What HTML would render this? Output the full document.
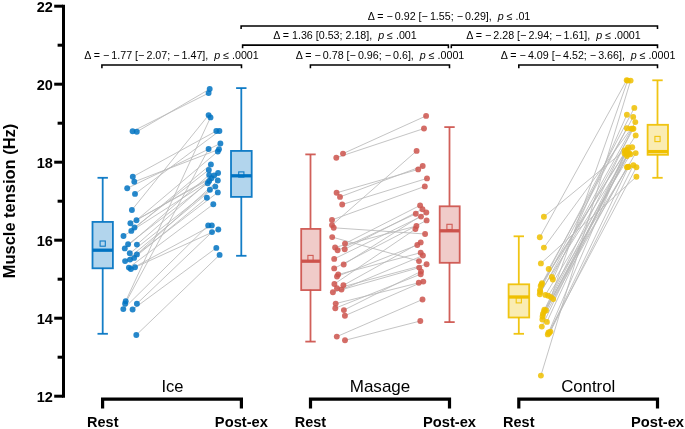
<!DOCTYPE html>
<html><head><meta charset="utf-8"><title>Muscle tension</title>
<style>html,body{margin:0;padding:0;background:#fff}svg{display:block}</style></head>
<body>
<svg width="685" height="429" viewBox="0 0 685 429" font-family="'Liberation Sans', Arial, sans-serif">
<rect width="685" height="429" fill="#fff"/>
<g stroke="#b9b9b9" stroke-width="0.85" fill="none">
<line x1="132.6" y1="131.3" x2="208.6" y2="93.1"/>
<line x1="136.8" y1="131.8" x2="209.7" y2="89"/>
<line x1="132.8" y1="176.75" x2="216.3" y2="131"/>
<line x1="134.3" y1="181.8" x2="219" y2="149.3"/>
<line x1="127.2" y1="188.3" x2="220.4" y2="143.5"/>
<line x1="135" y1="193.9" x2="219.4" y2="131"/>
<line x1="131.9" y1="210" x2="208.6" y2="115.1"/>
<line x1="125.7" y1="301.2" x2="210.5" y2="117.4"/>
<line x1="125.1" y1="303.7" x2="208.6" y2="149"/>
<line x1="123.3" y1="309.1" x2="208.2" y2="225.4"/>
<line x1="136.9" y1="303.7" x2="212" y2="232.1"/>
<line x1="132.6" y1="309.5" x2="216.3" y2="247.9"/>
<line x1="130.9" y1="269" x2="211.8" y2="225.4"/>
<line x1="136.3" y1="335" x2="219.6" y2="254.9"/>
<line x1="135" y1="267.3" x2="218.3" y2="229.5"/>
<line x1="136.5" y1="220.2" x2="217.8" y2="151.5"/>
<line x1="136.5" y1="220.2" x2="214.2" y2="175.4"/>
<line x1="130.4" y1="223.2" x2="211.4" y2="178.2"/>
<line x1="134.5" y1="227.5" x2="208.8" y2="169.9"/>
<line x1="131.3" y1="230.9" x2="210.9" y2="164.4"/>
<line x1="123.5" y1="236" x2="209.2" y2="181"/>
<line x1="128.1" y1="244.3" x2="207.7" y2="183.3"/>
<line x1="136.9" y1="244.6" x2="218.1" y2="173"/>
<line x1="124.8" y1="248.4" x2="209.2" y2="174.9"/>
<line x1="129.8" y1="253.3" x2="209.9" y2="189.8"/>
<line x1="136.9" y1="254.4" x2="217.8" y2="180.5"/>
<line x1="134.1" y1="257.9" x2="206.9" y2="197.8"/>
<line x1="130" y1="259.6" x2="217.8" y2="192.4"/>
<line x1="125.1" y1="261.1" x2="215.3" y2="186.6"/>
<line x1="128.9" y1="267.6" x2="213.3" y2="204.2"/>
</g>
<g stroke="#b9b9b9" stroke-width="0.85" fill="none">
<line x1="343" y1="153.6" x2="426.1" y2="115.9"/>
<line x1="336.3" y1="157.7" x2="424" y2="128.5"/>
<line x1="332" y1="225.1" x2="416.6" y2="150.9"/>
<line x1="336.6" y1="192.8" x2="418.2" y2="169.4"/>
<line x1="340" y1="196.9" x2="422.7" y2="166"/>
<line x1="342.2" y1="204.5" x2="427" y2="178.4"/>
<line x1="332" y1="219.9" x2="424.8" y2="186.4"/>
<line x1="333.7" y1="227.8" x2="425.1" y2="234"/>
<line x1="332.2" y1="237.1" x2="419" y2="261.1"/>
<line x1="336.8" y1="336.6" x2="422.5" y2="299.5"/>
<line x1="345" y1="340.3" x2="420.3" y2="321"/>
<line x1="345" y1="243.6" x2="420.1" y2="205.4"/>
<line x1="335.1" y1="247.4" x2="416.4" y2="226"/>
<line x1="344.7" y1="249.2" x2="422.5" y2="209.2"/>
<line x1="337.6" y1="250.3" x2="415.8" y2="213.8"/>
<line x1="334.2" y1="258.9" x2="421" y2="216.6"/>
<line x1="343.7" y1="264.5" x2="426.3" y2="212.5"/>
<line x1="334.2" y1="268.4" x2="426.6" y2="220.4"/>
<line x1="338.2" y1="274.5" x2="420.7" y2="252.7"/>
<line x1="337" y1="276.5" x2="417.3" y2="245"/>
<line x1="334.4" y1="284" x2="415.4" y2="229.1"/>
<line x1="343.4" y1="285.3" x2="420.7" y2="242.4"/>
<line x1="337" y1="288.3" x2="426.6" y2="264.3"/>
<line x1="341.5" y1="289.6" x2="422.9" y2="255.5"/>
<line x1="332.9" y1="292.2" x2="419.2" y2="267.6"/>
<line x1="335.7" y1="303.6" x2="418.8" y2="282.8"/>
<line x1="335.3" y1="308.2" x2="420.7" y2="274.2"/>
<line x1="343.9" y1="310.1" x2="421" y2="271.4"/>
<line x1="344.9" y1="315.7" x2="423.3" y2="281.6"/>
</g>
<g stroke="#b9b9b9" stroke-width="0.85" fill="none">
<line x1="543.9" y1="216.8" x2="624.6" y2="150.4"/>
<line x1="539.8" y1="237.3" x2="626.7" y2="80.2"/>
<line x1="543.9" y1="247.6" x2="631.1" y2="128.6"/>
<line x1="540.9" y1="263.4" x2="636.4" y2="176.7"/>
<line x1="540.9" y1="375.6" x2="630.6" y2="80.6"/>
<line x1="551" y1="297.1" x2="627.7" y2="80.6"/>
<line x1="548.7" y1="269" x2="626.9" y2="128.3"/>
<line x1="551.8" y1="277" x2="633.4" y2="128.8"/>
<line x1="552.8" y1="279.5" x2="626.9" y2="114.7"/>
<line x1="542" y1="283.1" x2="635.7" y2="135.4"/>
<line x1="541.5" y1="284.5" x2="634.3" y2="107.9"/>
<line x1="540.7" y1="285.9" x2="624.6" y2="153.6"/>
<line x1="540" y1="290.2" x2="633.2" y2="116.9"/>
<line x1="540.3" y1="292" x2="632.2" y2="147.3"/>
<line x1="539.8" y1="294.3" x2="635.3" y2="122.1"/>
<line x1="545.4" y1="294.9" x2="630.4" y2="154.3"/>
<line x1="548.2" y1="295.8" x2="627.8" y2="166.9"/>
<line x1="553.2" y1="299.1" x2="626.9" y2="156.1"/>
<line x1="544.4" y1="309.8" x2="632.4" y2="128.7"/>
<line x1="546" y1="310.5" x2="627.6" y2="154.3"/>
<line x1="544" y1="311.5" x2="635.7" y2="153.1"/>
<line x1="542.9" y1="313.9" x2="626.3" y2="151.3"/>
<line x1="542.6" y1="316.5" x2="629" y2="153"/>
<line x1="542.4" y1="319.5" x2="626.9" y2="167.3"/>
<line x1="546.9" y1="321.9" x2="625.5" y2="152"/>
<line x1="541.8" y1="326.6" x2="628.1" y2="147.4"/>
<line x1="550.4" y1="331.6" x2="633.4" y2="165.2"/>
<line x1="548.5" y1="332.5" x2="627" y2="150"/>
<line x1="549.2" y1="333" x2="628.6" y2="166.8"/>
<line x1="547.8" y1="334.4" x2="636.4" y2="167.3"/>
</g>
<g fill="#0073C2" fill-opacity="0.85">
<circle cx="132.6" cy="131.3" r="2.95"/>
<circle cx="136.8" cy="131.8" r="2.95"/>
<circle cx="132.8" cy="176.75" r="2.95"/>
<circle cx="134.3" cy="181.8" r="2.95"/>
<circle cx="127.2" cy="188.3" r="2.95"/>
<circle cx="135" cy="193.9" r="2.95"/>
<circle cx="131.9" cy="210" r="2.95"/>
<circle cx="136.5" cy="220.2" r="2.95"/>
<circle cx="130.4" cy="223.2" r="2.95"/>
<circle cx="134.5" cy="227.5" r="2.95"/>
<circle cx="131.3" cy="230.9" r="2.95"/>
<circle cx="123.5" cy="236" r="2.95"/>
<circle cx="128.1" cy="244.3" r="2.95"/>
<circle cx="136.9" cy="244.6" r="2.95"/>
<circle cx="124.8" cy="248.4" r="2.95"/>
<circle cx="129.8" cy="253.3" r="2.95"/>
<circle cx="136.9" cy="254.4" r="2.95"/>
<circle cx="134.1" cy="257.9" r="2.95"/>
<circle cx="130" cy="259.6" r="2.95"/>
<circle cx="125.1" cy="261.1" r="2.95"/>
<circle cx="128.9" cy="267.6" r="2.95"/>
<circle cx="130.9" cy="269" r="2.95"/>
<circle cx="135" cy="267.3" r="2.95"/>
<circle cx="125.7" cy="301.2" r="2.95"/>
<circle cx="125.1" cy="303.7" r="2.95"/>
<circle cx="136.9" cy="303.7" r="2.95"/>
<circle cx="123.3" cy="309.1" r="2.95"/>
<circle cx="132.6" cy="309.5" r="2.95"/>
<circle cx="136.3" cy="335" r="2.95"/>
<circle cx="209.7" cy="89" r="2.95"/>
<circle cx="208.6" cy="93.1" r="2.95"/>
<circle cx="208.6" cy="115.1" r="2.95"/>
<circle cx="210.5" cy="117.4" r="2.95"/>
<circle cx="216.3" cy="131" r="2.95"/>
<circle cx="219.4" cy="131" r="2.95"/>
<circle cx="220.4" cy="143.5" r="2.95"/>
<circle cx="208.6" cy="149" r="2.95"/>
<circle cx="219" cy="149.3" r="2.95"/>
<circle cx="217.8" cy="151.5" r="2.95"/>
<circle cx="210.9" cy="164.4" r="2.95"/>
<circle cx="208.8" cy="169.9" r="2.95"/>
<circle cx="218.1" cy="173" r="2.95"/>
<circle cx="209.2" cy="174.9" r="2.95"/>
<circle cx="214.2" cy="175.4" r="2.95"/>
<circle cx="211.4" cy="178.2" r="2.95"/>
<circle cx="217.8" cy="180.5" r="2.95"/>
<circle cx="209.2" cy="181" r="2.95"/>
<circle cx="207.7" cy="183.3" r="2.95"/>
<circle cx="215.3" cy="186.6" r="2.95"/>
<circle cx="209.9" cy="189.8" r="2.95"/>
<circle cx="217.8" cy="192.4" r="2.95"/>
<circle cx="206.9" cy="197.8" r="2.95"/>
<circle cx="213.3" cy="204.2" r="2.95"/>
<circle cx="208.2" cy="225.4" r="2.95"/>
<circle cx="211.8" cy="225.4" r="2.95"/>
<circle cx="218.3" cy="229.5" r="2.95"/>
<circle cx="212" cy="232.1" r="2.95"/>
<circle cx="216.3" cy="247.9" r="2.95"/>
<circle cx="219.6" cy="254.9" r="2.95"/>
</g>
<g fill="#CD534C" fill-opacity="0.85">
<circle cx="343" cy="153.6" r="2.95"/>
<circle cx="336.3" cy="157.7" r="2.95"/>
<circle cx="336.6" cy="192.8" r="2.95"/>
<circle cx="340" cy="196.9" r="2.95"/>
<circle cx="342.2" cy="204.5" r="2.95"/>
<circle cx="332" cy="219.9" r="2.95"/>
<circle cx="332" cy="225.1" r="2.95"/>
<circle cx="333.7" cy="227.8" r="2.95"/>
<circle cx="332.2" cy="237.1" r="2.95"/>
<circle cx="345" cy="243.6" r="2.95"/>
<circle cx="335.1" cy="247.4" r="2.95"/>
<circle cx="337.6" cy="250.3" r="2.95"/>
<circle cx="344.7" cy="249.2" r="2.95"/>
<circle cx="334.2" cy="258.9" r="2.95"/>
<circle cx="343.7" cy="264.5" r="2.95"/>
<circle cx="334.2" cy="268.4" r="2.95"/>
<circle cx="338.2" cy="274.5" r="2.95"/>
<circle cx="337" cy="276.5" r="2.95"/>
<circle cx="334.4" cy="284" r="2.95"/>
<circle cx="343.4" cy="285.3" r="2.95"/>
<circle cx="337" cy="288.3" r="2.95"/>
<circle cx="341.5" cy="289.6" r="2.95"/>
<circle cx="332.9" cy="292.2" r="2.95"/>
<circle cx="335.7" cy="303.6" r="2.95"/>
<circle cx="335.3" cy="308.2" r="2.95"/>
<circle cx="343.9" cy="310.1" r="2.95"/>
<circle cx="344.9" cy="315.7" r="2.95"/>
<circle cx="336.8" cy="336.6" r="2.95"/>
<circle cx="345" cy="340.3" r="2.95"/>
<circle cx="426.1" cy="115.9" r="2.95"/>
<circle cx="424" cy="128.5" r="2.95"/>
<circle cx="416.6" cy="150.9" r="2.95"/>
<circle cx="422.7" cy="166" r="2.95"/>
<circle cx="418.2" cy="169.4" r="2.95"/>
<circle cx="427" cy="178.4" r="2.95"/>
<circle cx="424.8" cy="186.4" r="2.95"/>
<circle cx="420.1" cy="205.4" r="2.95"/>
<circle cx="422.5" cy="209.2" r="2.95"/>
<circle cx="426.3" cy="212.5" r="2.95"/>
<circle cx="415.8" cy="213.8" r="2.95"/>
<circle cx="421" cy="216.6" r="2.95"/>
<circle cx="426.6" cy="220.4" r="2.95"/>
<circle cx="416.4" cy="226" r="2.95"/>
<circle cx="415.4" cy="229.1" r="2.95"/>
<circle cx="425.1" cy="234" r="2.95"/>
<circle cx="420.7" cy="242.4" r="2.95"/>
<circle cx="417.3" cy="245" r="2.95"/>
<circle cx="420.7" cy="252.7" r="2.95"/>
<circle cx="422.9" cy="255.5" r="2.95"/>
<circle cx="419" cy="261.1" r="2.95"/>
<circle cx="426.6" cy="264.3" r="2.95"/>
<circle cx="419.2" cy="267.6" r="2.95"/>
<circle cx="421" cy="271.4" r="2.95"/>
<circle cx="420.7" cy="274.2" r="2.95"/>
<circle cx="423.3" cy="281.6" r="2.95"/>
<circle cx="418.8" cy="282.8" r="2.95"/>
<circle cx="422.5" cy="299.5" r="2.95"/>
<circle cx="420.3" cy="321" r="2.95"/>
</g>
<g fill="#EFC000" fill-opacity="0.85">
<circle cx="543.9" cy="216.8" r="2.95"/>
<circle cx="539.8" cy="237.3" r="2.95"/>
<circle cx="543.9" cy="247.6" r="2.95"/>
<circle cx="540.9" cy="263.4" r="2.95"/>
<circle cx="548.7" cy="269" r="2.95"/>
<circle cx="551.8" cy="277" r="2.95"/>
<circle cx="552.8" cy="279.5" r="2.95"/>
<circle cx="542" cy="283.1" r="2.95"/>
<circle cx="540.7" cy="285.9" r="2.95"/>
<circle cx="540" cy="290.2" r="2.95"/>
<circle cx="539.8" cy="294.3" r="2.95"/>
<circle cx="545.4" cy="294.9" r="2.95"/>
<circle cx="548.2" cy="295.8" r="2.95"/>
<circle cx="551" cy="297.1" r="2.95"/>
<circle cx="553.2" cy="299.1" r="2.95"/>
<circle cx="544.4" cy="309.8" r="2.95"/>
<circle cx="546" cy="310.5" r="2.95"/>
<circle cx="542.9" cy="313.9" r="2.95"/>
<circle cx="542.4" cy="319.5" r="2.95"/>
<circle cx="546.9" cy="321.9" r="2.95"/>
<circle cx="541.8" cy="326.6" r="2.95"/>
<circle cx="550.4" cy="331.6" r="2.95"/>
<circle cx="547.8" cy="334.4" r="2.95"/>
<circle cx="549.2" cy="333" r="2.95"/>
<circle cx="540.9" cy="375.6" r="2.95"/>
<circle cx="541.5" cy="284.5" r="2.95"/>
<circle cx="540.3" cy="292" r="2.95"/>
<circle cx="544" cy="311.5" r="2.95"/>
<circle cx="542.6" cy="316.5" r="2.95"/>
<circle cx="548.5" cy="332.5" r="2.95"/>
<circle cx="626.7" cy="80.2" r="2.95"/>
<circle cx="627.7" cy="80.6" r="2.95"/>
<circle cx="630.6" cy="80.6" r="2.95"/>
<circle cx="634.3" cy="107.9" r="2.95"/>
<circle cx="626.9" cy="114.7" r="2.95"/>
<circle cx="633.2" cy="116.9" r="2.95"/>
<circle cx="635.3" cy="122.1" r="2.95"/>
<circle cx="626.9" cy="128.3" r="2.95"/>
<circle cx="631.1" cy="128.6" r="2.95"/>
<circle cx="633.4" cy="128.8" r="2.95"/>
<circle cx="635.7" cy="135.4" r="2.95"/>
<circle cx="628.1" cy="147.4" r="2.95"/>
<circle cx="632.2" cy="147.3" r="2.95"/>
<circle cx="624.6" cy="150.4" r="2.95"/>
<circle cx="626.3" cy="151.3" r="2.95"/>
<circle cx="624.6" cy="153.6" r="2.95"/>
<circle cx="627.6" cy="154.3" r="2.95"/>
<circle cx="626.9" cy="156.1" r="2.95"/>
<circle cx="630.4" cy="154.3" r="2.95"/>
<circle cx="635.7" cy="153.1" r="2.95"/>
<circle cx="626.9" cy="167.3" r="2.95"/>
<circle cx="628.6" cy="166.8" r="2.95"/>
<circle cx="633.4" cy="165.2" r="2.95"/>
<circle cx="636.4" cy="167.3" r="2.95"/>
<circle cx="636.4" cy="176.7" r="2.95"/>
<circle cx="625.5" cy="152" r="2.95"/>
<circle cx="627" cy="150" r="2.95"/>
<circle cx="629" cy="153" r="2.95"/>
<circle cx="627.8" cy="166.9" r="2.95"/>
<circle cx="632.4" cy="128.7" r="2.95"/>
</g>
<g stroke="#0073C2" stroke-opacity="0.92" fill="none" stroke-width="1.8">
<line x1="102.7" y1="177.8" x2="102.7" y2="221.5"/>
<line x1="102.7" y1="267.9" x2="102.7" y2="333.8"/>
<line x1="97.5" y1="177.8" x2="107.9" y2="177.8"/>
<line x1="97.5" y1="333.8" x2="107.9" y2="333.8"/>
<rect x="92.50" y="221.9" width="20.40" height="46.4" fill="#0073C2" fill-opacity="0.3"/>
<line x1="92.50" y1="250.2" x2="112.90" y2="250.2" stroke-width="3.3" stroke-opacity="1"/>
<rect x="100.1" y="241.0" width="5.2" height="5.2" stroke-width="1.1"/>
</g>
<g stroke="#0073C2" stroke-opacity="0.92" fill="none" stroke-width="1.8">
<line x1="241.3" y1="88.1" x2="241.3" y2="150.5"/>
<line x1="241.3" y1="196.5" x2="241.3" y2="255.8"/>
<line x1="236.10000000000002" y1="88.1" x2="246.5" y2="88.1"/>
<line x1="236.10000000000002" y1="255.8" x2="246.5" y2="255.8"/>
<rect x="231.00" y="150.9" width="20.70" height="46.0" fill="#0073C2" fill-opacity="0.3"/>
<line x1="231.00" y1="175.8" x2="251.70" y2="175.8" stroke-width="3.3" stroke-opacity="1"/>
<rect x="238.7" y="171.9" width="5.2" height="5.2" stroke-width="1.1"/>
</g>
<g stroke="#CD534C" stroke-opacity="0.92" fill="none" stroke-width="1.8">
<line x1="310.5" y1="154.4" x2="310.5" y2="228.5"/>
<line x1="310.5" y1="289.7" x2="310.5" y2="341.6"/>
<line x1="305.3" y1="154.4" x2="315.7" y2="154.4"/>
<line x1="305.3" y1="341.6" x2="315.7" y2="341.6"/>
<rect x="301.20" y="228.9" width="19.20" height="61.2" fill="#CD534C" fill-opacity="0.3"/>
<line x1="301.20" y1="261.2" x2="320.40" y2="261.2" stroke-width="3.3" stroke-opacity="1"/>
<rect x="307.9" y="255.4" width="5.2" height="5.2" stroke-width="1.1"/>
</g>
<g stroke="#CD534C" stroke-opacity="0.92" fill="none" stroke-width="1.8">
<line x1="449.5" y1="127.1" x2="449.5" y2="205.9"/>
<line x1="449.5" y1="262.4" x2="449.5" y2="322.1"/>
<line x1="444.3" y1="127.1" x2="454.7" y2="127.1"/>
<line x1="444.3" y1="322.1" x2="454.7" y2="322.1"/>
<rect x="439.70" y="206.3" width="20.00" height="56.5" fill="#CD534C" fill-opacity="0.3"/>
<line x1="439.70" y1="230.8" x2="459.70" y2="230.8" stroke-width="3.3" stroke-opacity="1"/>
<rect x="446.9" y="224.3" width="5.2" height="5.2" stroke-width="1.1"/>
</g>
<g stroke="#EFC000" stroke-opacity="0.92" fill="none" stroke-width="1.8">
<line x1="518.8" y1="236.3" x2="518.8" y2="283.9"/>
<line x1="518.8" y1="317.0" x2="518.8" y2="333.8"/>
<line x1="513.5999999999999" y1="236.3" x2="524.0" y2="236.3"/>
<line x1="513.5999999999999" y1="333.8" x2="524.0" y2="333.8"/>
<rect x="508.60" y="284.3" width="20.60" height="33.2" fill="#EFC000" fill-opacity="0.3"/>
<line x1="508.60" y1="297.0" x2="529.20" y2="297.0" stroke-width="3.3" stroke-opacity="1"/>
<rect x="516.2" y="297.7" width="5.2" height="5.2" stroke-width="1.1"/>
</g>
<g stroke="#EFC000" stroke-opacity="0.92" fill="none" stroke-width="1.8">
<line x1="657.5" y1="80.3" x2="657.5" y2="124.4"/>
<line x1="657.5" y1="154.4" x2="657.5" y2="177.8"/>
<line x1="652.3" y1="80.3" x2="662.7" y2="80.3"/>
<line x1="652.3" y1="177.8" x2="662.7" y2="177.8"/>
<rect x="647.60" y="124.8" width="20.40" height="30.0" fill="#EFC000" fill-opacity="0.3"/>
<line x1="647.60" y1="151.6" x2="668.00" y2="151.6" stroke-width="3.3" stroke-opacity="1"/>
<rect x="654.9" y="136.4" width="5.2" height="5.2" stroke-width="1.1"/>
</g>
<g stroke="#000" stroke-width="3" fill="none">
<line x1="63.5" y1="4.7" x2="63.5" y2="397.7"/>
<line x1="54.2" y1="396.2" x2="63" y2="396.2"/>
<line x1="57.6" y1="357.2" x2="63" y2="357.2"/>
<line x1="54.2" y1="318.2" x2="63" y2="318.2"/>
<line x1="57.6" y1="279.2" x2="63" y2="279.2"/>
<line x1="54.2" y1="240.2" x2="63" y2="240.2"/>
<line x1="57.6" y1="201.2" x2="63" y2="201.2"/>
<line x1="54.2" y1="162.2" x2="63" y2="162.2"/>
<line x1="57.6" y1="123.2" x2="63" y2="123.2"/>
<line x1="54.2" y1="84.2" x2="63" y2="84.2"/>
<line x1="57.6" y1="45.2" x2="63" y2="45.2"/>
<line x1="54.2" y1="6.2" x2="63" y2="6.2"/>
</g>
<g font-size="14.5" font-weight="bold" text-anchor="end" fill="#000">
<text transform="translate(52.8,401.5) scale(1.0,1)">12</text>
<text transform="translate(52.8,323.5) scale(1.0,1)">14</text>
<text transform="translate(52.8,245.5) scale(1.0,1)">16</text>
<text transform="translate(52.8,167.5) scale(1.0,1)">18</text>
<text transform="translate(52.8,89.5) scale(1.0,1)">20</text>
<text transform="translate(52.8,11.5) scale(1.0,1)">22</text>
</g>
<text transform="translate(15.3,201) rotate(-90) scale(1.016,1)" font-size="16.2" font-weight="bold" text-anchor="middle" fill="#000">Muscle tension (Hz)</text>
<g stroke="#000" stroke-width="3.2" fill="none" stroke-linejoin="miter">
<path d="M102.6 408.6V399.1H241.4V408.6"/>
<path d="M310.5 408.6V399.1H449.5V408.6"/>
<path d="M518.8 408.6V399.1H657.5V408.6"/>
</g>
<g font-size="16" text-anchor="middle" fill="#000">
<text transform="translate(172.5,391.9) scale(1.035,1)">Ice</text>
<text transform="translate(380,391.9) scale(1.065,1)">Masage</text>
<text transform="translate(588.2,391.9) scale(1.05,1)">Control</text>
</g>
<g font-size="14" font-weight="bold" text-anchor="middle" fill="#000">
<text transform="translate(102.8,427.4) scale(1.035,1)">Rest</text>
<text transform="translate(241.4,427.4) scale(1.05,1)">Post-ex</text>
<text transform="translate(310.5,427.4) scale(1.035,1)">Rest</text>
<text transform="translate(449.5,427.4) scale(1.05,1)">Post-ex</text>
<text transform="translate(518.8,427.4) scale(1.035,1)">Rest</text>
<text transform="translate(657.5,427.4) scale(1.05,1)">Post-ex</text>
</g>
<g stroke="#000" stroke-width="1.55" fill="none">
<path d="M101.9 68.2V65H241.5V68.2"/>
<path d="M310.4 68.2V65H449.5V68.2"/>
<path d="M518.8 68.2V65H657.5V68.2"/>
<path d="M242.6 48.300000000000004V45.1H448.4V48.300000000000004"/>
<path d="M451.3 48.300000000000004V45.1H657.5V48.300000000000004"/>
<path d="M241.1 29.099999999999998V25.9H657.5V29.099999999999998"/>
</g>
<g font-size="10.7" text-anchor="middle" fill="#000">
<text x="171.5" y="58.6">Δ = − 1.77 [− 2.07; − 1.47],  <tspan font-style="italic">p</tspan> ≤ .0001</text>
<text x="380" y="58.6">Δ = − 0.78 [− 0.96; − 0.6],  <tspan font-style="italic">p</tspan> ≤ .0001</text>
<text x="588.1" y="58.6">Δ = − 4.09 [− 4.52; − 3.66],  <tspan font-style="italic">p</tspan> ≤ .0001</text>
<text x="345" y="38.7">Δ = 1.36 [0.53; 2.18],  <tspan font-style="italic">p</tspan> ≤ .001</text>
<text x="553.5" y="38.7">Δ = − 2.28 [− 2.94; − 1.61],  <tspan font-style="italic">p</tspan> ≤ .0001</text>
<text x="449" y="19.5">Δ = − 0.92 [− 1.55; − 0.29],  <tspan font-style="italic">p</tspan> ≤ .01</text>
</g>
</svg>
</body></html>
